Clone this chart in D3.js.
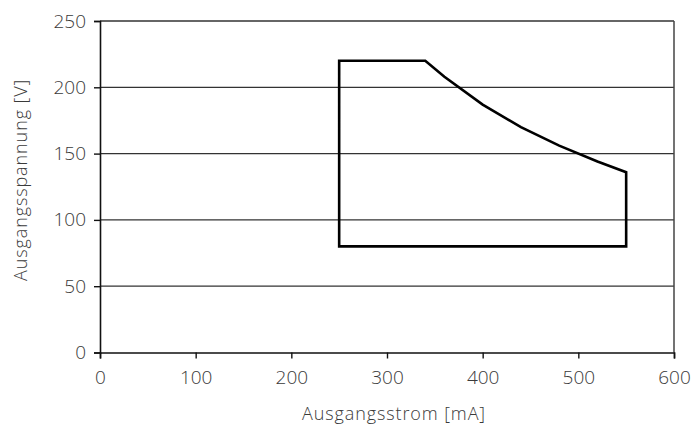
<!DOCTYPE html>
<html>
<head>
<meta charset="utf-8">
<script src="https://cdn.jsdelivr.net/npm/d3@7"></script>
<style>
  body { margin: 0; background: #fff; }
  text { font-family: "Open Sans", sans-serif; font-weight: 300; fill: #3a3a3a; }
</style>
</head>
<body>
<div id="chart"></div>
<script>
// Operating window: output current [mA] vs output voltage [V]
var currentMA = [250, 250, 340, 360, 400, 440, 480, 520, 550, 550];
var voltageV  = [80, 220, 220, 208, 187, 170, 156, 144, 136, 80];
var xTicks = [0, 100, 200, 300, 400, 500, 600];
var yTicks = [0, 50, 100, 150, 200, 250];

function init() {
    var w = 694;
    var h = 425;
    var padding = { top: 21, right: 20, bottom: 72.5, left: 100 };

    var xScale = d3.scaleLinear().domain([0, 600]).range([padding.left, 674]);
    var yScale = d3.scaleLinear().domain([0, 250]).range([h - padding.bottom, padding.top]);

    var svg = d3.select("#chart")
        .append("svg")
        .attr("width", w)
        .attr("height", h);

    // Horizontal grid lines
    svg.append("g")
        .selectAll("line")
        .data(yTicks.filter(d => d > 0))
        .enter()
        .append("line")
        .attr("x1", xScale(0))
        .attr("x2", xScale(600))
        .attr("y1", d => yScale(d))
        .attr("y2", d => yScale(d))
        .attr("stroke", "#333")
        .attr("stroke-width", 1.3);

    // Right border
    svg.append("line")
        .attr("x1", xScale(600)).attr("x2", xScale(600))
        .attr("y1", yScale(0)).attr("y2", yScale(250))
        .attr("stroke", "#444")
        .attr("stroke-width", 1.5);

    // Axes
    var xAxis = svg.append("g")
        .attr("transform", "translate(0," + yScale(0) + ")")
        .call(d3.axisBottom(xScale).tickValues(xTicks).tickSize(6).tickPadding(12));
    var yAxis = svg.append("g")
        .attr("transform", "translate(" + xScale(0) + ",0)")
        .call(d3.axisLeft(yScale).tickValues(yTicks).tickSize(6).tickPadding(8));

    [xAxis, yAxis].forEach(function(a) {
        a.select(".domain").attr("stroke", "#111").attr("stroke-width", 1.6);
        a.selectAll(".tick line").attr("stroke", "#111").attr("stroke-width", 1.4);
        a.selectAll(".tick text")
            .attr("font-size", 19)
            .attr("font-family", null)
            .attr("fill", null);
    });

    // Operating area outline
    var line = d3.line()
        .x((d, i) => xScale(currentMA[i]))
        .y((d, i) => yScale(voltageV[i]));

    svg.append("path")
        .attr("d", line(currentMA) + "Z")
        .attr("fill", "none")
        .attr("stroke", "#000")
        .attr("stroke-width", 2.6)
        .attr("stroke-linejoin", "miter");

    // Axis titles
    svg.append("text")
        .attr("text-anchor", "middle")
        .attr("x", 394)
        .attr("y", 420)
        .attr("font-size", 18)
        .attr("letter-spacing", 0.9)
        .text("Ausgangsstrom [mA]");

    svg.append("text")
        .attr("text-anchor", "middle")
        .attr("transform", "rotate(-90)")
        .attr("x", -180)
        .attr("y", 27)
        .attr("font-size", 18)
        .attr("letter-spacing", 0.9)
        .text("Ausgangsspannung [V]");
}

window.onload = init;
</script>
</body>
</html>
